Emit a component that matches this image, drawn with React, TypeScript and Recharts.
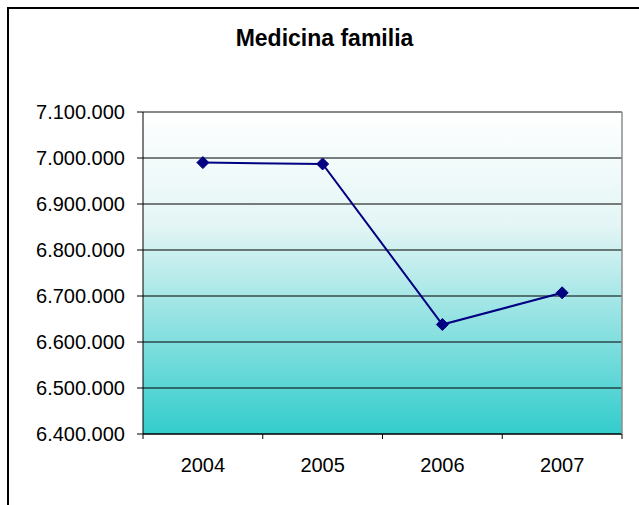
import React from 'react';
import {
  LineChart,
  Line,
  XAxis,
  YAxis,
  CartesianGrid,
  ReferenceLine,
} from 'recharts';

const years: string[] = ['2004', '2005', '2006', '2007'];
const values: number[] = [6990000, 6987000, 6638000, 6707000];
const yTicks: number[] = [6400000, 6500000, 6600000, 6700000, 6800000, 6900000, 7000000, 7100000];
const title = 'Medicina familia';

const data = years.map((y, i) => ({ year: y, value: values[i] }));

const FONT = '"Liberation Sans", Arial, sans-serif';

const fmt = (n: number) => String(n).replace(/\B(?=(\d{3})+(?!\d))/g, '.');

const XTick = (props: any) => {
  const { x, y, payload, index, visibleTicksCount } = props;
  const off = payload && typeof payload.offset === 'number' && payload.offset > 0 ? payload.offset : 60;
  const last = index === (visibleTicksCount ?? years.length) - 1;
  return (
    <g>
      <line x1={x - off} x2={x - off} y1={y} y2={y + 5} stroke="#000" strokeWidth={1} />
      {last && <line x1={x + off} x2={x + off} y1={y} y2={y + 5} stroke="#000" strokeWidth={1} />}
      <text x={x} y={y + 38} textAnchor="middle" fontSize={20} fontFamily={FONT} fill="#000">
        {payload.value}
      </text>
    </g>
  );
};

const Diamond = (props: any) => {
  const { cx, cy } = props;
  if (cx == null || cy == null) return null;
  const r = 6;
  return (
    <polygon
      points={`${cx},${cy - r} ${cx + r},${cy} ${cx},${cy + r} ${cx - r},${cy}`}
      fill="#000080"
      stroke="#000080"
      strokeWidth={1}
    />
  );
};

export default function App() {
  return (
    <div style={{ position: 'absolute', left: 0, top: 0, width: 639, height: 505, background: '#fff', overflow: 'hidden' }}>
      <div
        style={{
          position: 'absolute',
          left: 7,
          top: 7,
          width: 700,
          height: 600,
          borderTop: '2px solid #000',
          borderLeft: '2px solid #000',
        }}
      />
      <div
        style={{
          position: 'absolute',
          left: 10,
          top: 27,
          width: 629,
          textAlign: 'center',
          fontFamily: FONT,
          fontWeight: 'bold',
          fontSize: 23,
          lineHeight: '23px',
          color: '#000',
        }}
      >
        {title}
      </div>
      <div style={{ position: 'absolute', left: 0, top: 0 }}>
        <LineChart width={639} height={505} data={data} margin={{ top: 112, right: 0, bottom: 0, left: 0 }}>
          <defs>
            <linearGradient id="plotBg" x1="0" y1="0" x2="0" y2="1">
              <stop offset="0%" stopColor="#FFFFFF" />
              <stop offset="35%" stopColor="#E4F5F5" />
              <stop offset="100%" stopColor="#33CCCC" />
            </linearGradient>
          </defs>
          <CartesianGrid vertical={false} stroke="#000" strokeWidth={1} fill="url(#plotBg)" fillOpacity={1} />
          <XAxis
            dataKey="year"
            scale="band"
            height={71}
            axisLine={{ stroke: '#000', strokeWidth: 1 }}
            tickLine={false}
            tickSize={0}
            tickMargin={0}
            tick={<XTick />}
            interval={0}
          />
          <YAxis
            width={143}
            domain={[6400000, 7100000]}
            ticks={yTicks}
            tickFormatter={fmt}
            axisLine={{ stroke: '#000', strokeWidth: 1 }}
            tickLine={{ stroke: '#000', strokeWidth: 1 }}
            tickSize={6}
            tickMargin={12}
            tick={{ fill: '#000', fontSize: 20, fontFamily: FONT }}
            interval={0}
          />
          <YAxis
            yAxisId="r"
            orientation="right"
            width={17}
            domain={[0, 1]}
            tick={false}
            tickLine={false}
            axisLine={{ stroke: '#8c8c8c', strokeWidth: 1.5 }}
          />
          <ReferenceLine y={7100000} stroke="#8c8c8c" strokeWidth={1.5} />
          <Line
            type="linear"
            dataKey="value"
            stroke="#000080"
            strokeWidth={2}
            dot={<Diamond />}
            activeDot={false}
            isAnimationActive={false}
          />
        </LineChart>
      </div>
    </div>
  );
}
